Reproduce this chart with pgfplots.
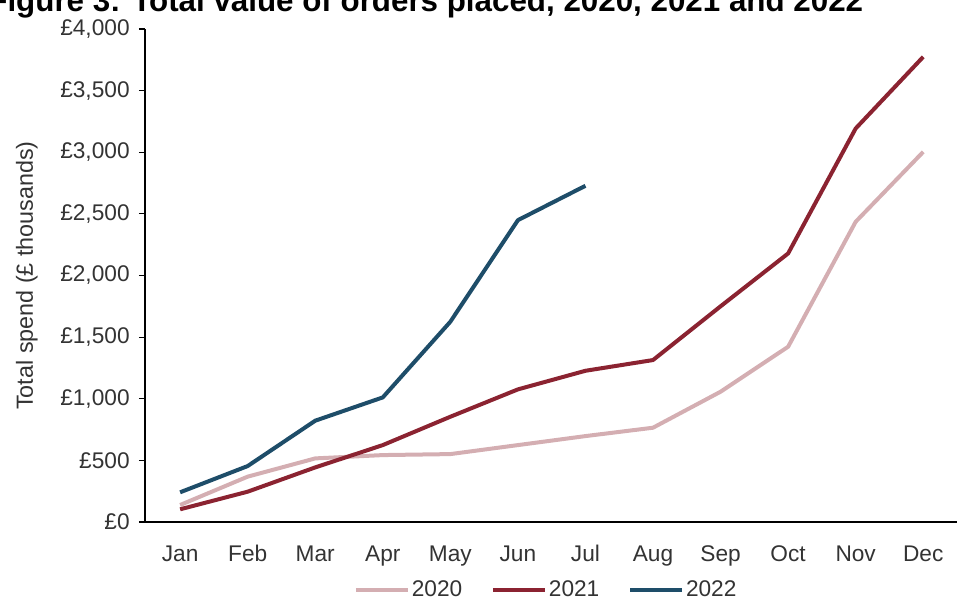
\documentclass[border=0pt]{standalone}
\usepackage{pgfplots}
\pgfplotsset{compat=1.18}
\usepackage{fontspec}
\setmainfont{Liberation Sans}
\definecolor{c2020}{HTML}{D4AEB2}
\definecolor{c2021}{HTML}{8B2331}
\definecolor{c2022}{HTML}{1E4D69}
\definecolor{txt}{HTML}{333333}
\begin{document}
\begin{tikzpicture}
\node[anchor=base west, font=\bfseries\fontsize{23.5}{28}\selectfont] at (-121pt,383pt) {Figure 3: Total value of orders placed, 2020, 2021 and 2022};
\begin{axis}[
  at={(0pt,0pt)}, anchor=south west,
  scale only axis, width=609pt, height=369.75pt,
  xmin=-0.52, xmax=11.5, ymin=0, ymax=4000,
  axis x line*=bottom, axis y line*=left,
  axis line style={black, line width=1pt},
  xtick={0,...,11},
  xticklabels={Jan,Feb,Mar,Apr,May,Jun,Jul,Aug,Sep,Oct,Nov,Dec},
  ytick={0,500,...,4000},
  yticklabels={£0,£500,{£1,000},{£1,500},{£2,000},{£2,500},{£3,000},{£3,500},{£4,000}},
  tick align=outside,
  major tick length=4.5pt,
  x tick style={draw=none},
  y tick style={black, line width=0.8pt},
  tick label style={font=\fontsize{17}{20}\selectfont, text=txt},
  xticklabel style={text height=12.5pt, text depth=3.5pt, yshift=-9pt},
  yticklabel style={xshift=-3.5pt},
  ylabel={Total spend (£ thousands)},
  ylabel shift=10pt,
  ylabel style={font=\fontsize{17.5}{21}\selectfont, text=txt},
  legend style={at={(0.494,-0.138)}, anchor=center, draw=none, fill=none,
    font=\fontsize{17}{20}\selectfont, text=txt,
    nodes={inner sep=1.5pt},
    /tikz/every even column/.append style={column sep=20pt}},
  legend columns=3,
  legend image code/.code={\draw[#1] (0pt,0pt) -- (39pt,0pt);},
  clip=false,
]
\addplot[c2020, line width=3pt, line join=round] coordinates {
(0,138) (1,368) (2,516) (3,543) (4,551) (5,624) (6,697) (7,765) (8,1057) (9,1422) (10,2436) (11,3003)};
\addlegendentry{2020}
\addplot[c2021, line width=3pt, line join=round] coordinates {
(0,103) (1,246) (2,443) (3,624) (4,854) (5,1076) (6,1227) (7,1314) (8,1750) (9,2179) (10,3193) (11,3774)};
\addlegendentry{2021}
\addplot[c2022, line width=3pt, line join=round] coordinates {
(0,241) (1,454) (2,822) (3,1011) (4,1625) (5,2449) (6,2728)};
\addlegendentry{2022}
\end{axis}
\pgfresetboundingbox
\path[use as bounding box] (-108.75pt,-63.75pt) rectangle (612.75pt,391.5pt);
\end{tikzpicture}
\end{document}
